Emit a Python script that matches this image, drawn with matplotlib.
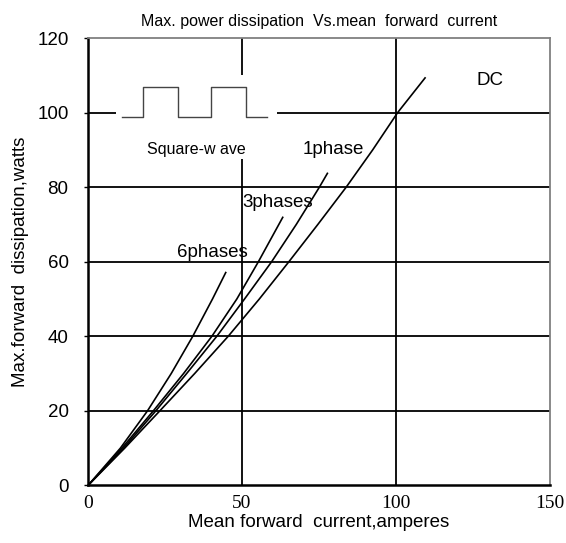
import matplotlib
matplotlib.use("Agg")
import matplotlib.pyplot as plt
from matplotlib.patches import Rectangle

# curve readings (current A, dissipation W)
dc_x = [0, 11.9, 23.3, 34.6, 45.5, 55.6, 65.2, 74.6, 83.8, 92.4, 100.5, 109.4]
dc_y = [0, 10, 20, 30, 40, 50, 60, 70, 80, 90, 100, 109.3]
ph1_x = [0, 11.5, 22.0, 32.0, 41.8, 50.8, 59.6, 67.6, 75.1, 77.7]
ph1_y = [0, 10, 20, 30, 40, 50, 60, 70, 80, 83.7]
ph3_x = [0, 11.0, 21.2, 31.0, 40.2, 48.3, 55.3, 63.2]
ph3_y = [0, 10, 20, 30, 40, 50, 60, 71.9]
ph6_x = [0, 10.5, 19.3, 27.0, 34.0, 40.4, 44.7]
ph6_y = [0, 10, 20, 30, 40, 50, 57.1]

# square-wave sketch in the inset
sq_x = [11.0, 17.9, 17.9, 29.2, 29.2, 39.9, 39.9, 51.3, 51.3, 58.1]
sq_y = [98.8, 98.8, 106.9, 106.9, 98.8, 98.8, 106.9, 106.9, 98.8, 98.8]

x_ticks = [0, 50, 100, 150]
y_ticks = [0, 20, 40, 60, 80, 100, 120]

labels = [("DC", 130.5, 108.5), ("1phase", 79.5, 90.0),
          ("3phases", 61.4, 75.8), ("6phases", 40.3, 62.4)]

sans = "Liberation Sans"
serif = "Liberation Serif"

fig = plt.figure(figsize=(5.66, 5.43), dpi=100)
ax = fig.add_axes([0.1555, 0.106, 0.8165, 0.824])

ax.set_xlim(0, 150)
ax.set_ylim(0, 120)

for gx in x_ticks[1:-1]:
    ax.axvline(gx, color="black", lw=1.3, zorder=1)
for gy in y_ticks[1:-1]:
    ax.axhline(gy, color="black", lw=1.3, zorder=1)

# white patch behind the square-wave inset
ax.add_patch(Rectangle((9.1, 87.6), 52.3, 22.5, facecolor="white",
                       edgecolor="none", zorder=2))
ax.plot(sq_x, sq_y, color="#444444", lw=1.0, zorder=3)
ax.text(35.2, 90.0, "Square-w ave", fontsize=11.5, family=sans,
        ha="center", va="center", zorder=3)

for xs, ys in [(dc_x, dc_y), (ph1_x, ph1_y), (ph3_x, ph3_y), (ph6_x, ph6_y)]:
    ax.plot(xs, ys, color="black", lw=1.2, zorder=4,
            solid_joinstyle="round")

for txt, tx, ty in labels:
    ax.text(tx, ty, txt, fontsize=13.5, family=sans, ha="center",
            va="center", zorder=5)

ax.set_xticks(x_ticks)
ax.set_yticks(y_ticks)
ax.set_xticklabels([str(v) for v in x_ticks], family=serif, fontsize=14)
ax.set_yticklabels([str(v) for v in y_ticks], family=sans, fontsize=13.5)
ax.tick_params(axis="x", length=0, pad=7)
ax.tick_params(axis="y", length=3, width=1, pad=11)

for side in ["left", "bottom"]:
    ax.spines[side].set_linewidth(1.8)
    ax.spines[side].set_color("black")
for side in ["top", "right"]:
    ax.spines[side].set_linewidth(1.3)
    ax.spines[side].set_color("#808080")

ax.set_title("Max. power dissipation  Vs.mean  forward  current",
             fontsize=11.5, family=sans, pad=9)
ax.set_xlabel("Mean forward  current,amperes", fontsize=13.5,
              family=sans, labelpad=1)
ax.set_ylabel("Max.forward  dissipation,watts", fontsize=13.5,
              family=sans, labelpad=6)

fig.savefig("out.png", dpi=100)
